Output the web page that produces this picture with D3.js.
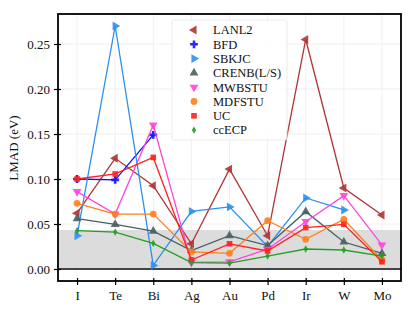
<!DOCTYPE html>
<html><head><meta charset="utf-8">
<script src="https://cdn.jsdelivr.net/npm/d3@7"></script>
<style>
html,body{margin:0;padding:0;background:#fff;}
svg text{font-family:"Liberation Serif","Times New Roman",serif;fill:#111;}
</style></head>
<body>
<svg id="chart" width="415" height="312"></svg>
<script>
const categories = ["I","Te","Bi","Ag","Au","Pd","Ir","W","Mo"];
const yTicks = [0.00,0.05,0.10,0.15,0.20,0.25];
const bandTop = 0.0433;

const LANL2  = [0.062,0.123,0.0926,0.028,0.111,0.037,0.255,0.090,0.060];
const BFD    = [0.100,0.099,0.149,null,null,null,null,null,null];
const SBKJC  = [0.037,0.270,0.004,0.064,0.069,0.025,0.079,0.0656,null];
const CRENB  = [0.056,0.0496,0.042,0.0205,0.037,0.026,0.0637,0.030,0.0174];
const MWBSTU = [0.086,0.061,0.160,0.0074,0.008,0.022,0.0526,0.0815,0.0267];
const MDFSTU = [0.073,0.061,0.061,0.019,0.0174,0.0537,0.033,0.0552,0.010];
const UC     = [0.100,0.1056,0.124,0.010,0.028,0.020,0.046,0.0496,0.008];
const ccECP  = [0.0426,0.041,0.0285,0.007,0.0065,0.0144,0.0222,0.0211,0.0144];

const seriesNames = ["LANL2","BFD","SBKJC","CRENB(L/S)","MWBSTU","MDFSTU","UC","ccECP"];
const seriesValues = [LANL2,BFD,SBKJC,CRENB,MWBSTU,MDFSTU,UC,ccECP];
const seriesColors = ["#b03535","#1010ff","#2b8ff0","#466060","#ff45dd","#ff7f1e","#ff2020","#22a022"];
const seriesMarkers = ["triLeft","plus","triRight","triUp","triDown","circle","square","diamond"];

const FONT = "Liberation Serif, Times New Roman, serif";
const svg = d3.select("#chart");
const L = 58, R = 401, T = 14, B = 281;
const x = d3.scalePoint().domain(categories).range([L,R]).padding(0.5);
const y = d3.scaleLinear().domain([-0.01333,0.28333]).range([B,T]);

// grid
const g = svg.append("g");
g.selectAll(".hg").data(yTicks).join("line")
  .attr("x1",L).attr("x2",R).attr("y1",d=>y(d)).attr("y2",d=>y(d))
  .attr("stroke","#ececec").attr("stroke-width",0.8);
g.selectAll(".vg").data(categories).join("line")
  .attr("y1",T).attr("y2",B).attr("x1",d=>x(d)).attr("x2",d=>x(d))
  .attr("stroke","#ececec").attr("stroke-width",0.8);

// band
svg.append("rect").attr("x",L).attr("width",R-L)
  .attr("y",y(bandTop)).attr("height",y(0)-y(bandTop))
  .attr("fill","#dcdcdc");
svg.append("line").attr("x1",L).attr("x2",R).attr("y1",y(0)).attr("y2",y(0))
  .attr("stroke","#444").attr("stroke-width",1.8);

function symPath(kind){
  switch(kind){
    case "triLeft": return {p:d3.symbol(d3.symbolTriangle,34)(), r:-90};
    case "triRight": return {p:d3.symbol(d3.symbolTriangle,34)(), r:90};
    case "triUp": return {p:d3.symbol(d3.symbolTriangle,34)(), r:0};
    case "triDown": return {p:d3.symbol(d3.symbolTriangle,34)(), r:180};
    case "plus": return {p:d3.symbol(d3.symbolCross,34)(), r:0};
    case "circle": return {p:d3.symbol(d3.symbolCircle,36)(), r:0};
    case "square": return {p:d3.symbol(d3.symbolSquare,32)(), r:0};
    case "diamond": return {p:"M0,-3.7L2.2,0L0,3.7L-2.2,0Z", r:0};
  }
}

const line = d3.line().defined(d=>d.v!==null).x(d=>x(d.c)).y(d=>y(d.v));
seriesValues.forEach((vals,i)=>{
  const pts = vals.map((v,j)=>({c:categories[j],v:v}));
  const col = seriesColors[i];
  svg.append("path").datum(pts).attr("d",line)
    .attr("fill","none").attr("stroke",col).attr("stroke-width",1.3);
  const s = symPath(seriesMarkers[i]);
  svg.append("g").selectAll("path").data(pts.filter(d=>d.v!==null)).join("path")
    .attr("d",s.p)
    .attr("transform",d=>`translate(${x(d.c)},${y(d.v)}) rotate(${s.r})`)
    .attr("fill",col).attr("opacity",0.9);
});

// frame
svg.append("rect").attr("x",L).attr("y",T).attr("width",R-L).attr("height",B-T)
  .attr("fill","none").attr("stroke","#000").attr("stroke-width",1.8);

// axes
const yAxis = d3.axisLeft(y).tickValues(yTicks).tickFormat(d3.format(".2f")).tickSizeInner(4).tickSizeOuter(0).tickPadding(4);
const ya = svg.append("g").attr("transform",`translate(${L},0)`).call(yAxis);
ya.attr("font-family",FONT);
ya.select(".domain").remove();
ya.selectAll(".tick line").attr("stroke","#000").attr("stroke-width",1.2).attr("x2",-4).attr("x1",3);
ya.selectAll(".tick text").attr("font-size",13).attr("fill","#111").attr("font-family",FONT);

const xAxis = d3.axisBottom(x).tickSizeInner(4).tickSizeOuter(0).tickPadding(6);
const xa = svg.append("g").attr("transform",`translate(0,${B})`).call(xAxis);
xa.attr("font-family",FONT);
xa.select(".domain").remove();
xa.selectAll(".tick line").attr("stroke","#000").attr("stroke-width",1.2).attr("y1",-3).attr("y2",4);
xa.selectAll(".tick text").attr("font-size",13).attr("fill","#111").attr("font-family",FONT);

svg.append("text").attr("transform","translate(18,148) rotate(-90)")
  .attr("text-anchor","middle").attr("font-size",13).attr("font-family",FONT).text("LMAD (eV)");

// legend
const lg = svg.append("g");
lg.append("rect").attr("x",172).attr("y",20).attr("width",115).attr("height",120)
  .attr("rx",2).attr("fill","#fff").attr("fill-opacity",0.8).attr("stroke","#e6e6e6").attr("stroke-width",0.8);
seriesNames.forEach((n,i)=>{
  const yy = 30 + i*14.3;
  const s = symPath(seriesMarkers[i]);
  lg.append("path").attr("d",s.p).attr("transform",`translate(194,${yy}) rotate(${s.r})`)
    .attr("fill",seriesColors[i]).attr("opacity",0.9);
  lg.append("text").attr("x",213).attr("y",yy+4.3).attr("font-size",12.5)
    .attr("font-family",FONT).attr("fill","#111").text(n);
});
</script>
</body></html>
